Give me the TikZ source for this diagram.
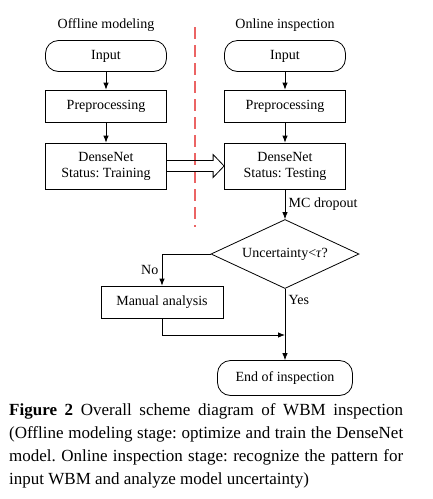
\documentclass[tikz,border=0pt]{standalone}
\usepackage{fontspec}
\setmainfont{Liberation Serif}
\usetikzlibrary{shapes,arrows.meta}

\begin{document}
\frenchspacing
\hyphenpenalty=10000
\exhyphenpenalty=10000
\begin{tikzpicture}[x=1pt,y=-1pt]
\tikzset{
block/.style={rectangle,draw=black,line width=0.8pt,text centered,minimum width=121pt,minimum height=32pt,font=\fontsize{14}{16}\selectfont},
termblock/.style={block,rounded corners=13pt,minimum height=31pt},
netblock/.style={block,minimum height=46pt,align=center},
decision/.style={diamond,draw=black,line width=0.8pt,aspect=2,inner sep=0pt,minimum width=148pt,minimum height=69pt,font=\fontsize{14}{16}\selectfont},
mytitle/.style={font=\fontsize{14}{16}\selectfont},
mylabel/.style={font=\fontsize{14}{16}\selectfont},
myarrow/.style={-{Latex[length=7pt,width=5.5pt]},line width=0.8pt},
hollowarrow/.style={line width=0.8pt,line join=miter},
redline/.style={draw={rgb,255:red,235;green,100;blue,100},line width=1.2pt,dash pattern=on 12pt off 6pt},
caption/.style={anchor=north west,text width=394pt,align=justify,inner sep=0pt,font=\fontsize{17}{23}\selectfont},
}
\useasboundingbox (0,0) rectangle (432,499);

% offline side
\node [termblock] (offinput) at (106,56) {Input};
\node [mytitle, above of=offinput, node distance=31pt] (offtitle) {Offline modeling};
\node [block, below of=offinput, node distance=50pt] (offprep) {Preprocessing};
\node [netblock, below of=offprep, node distance=60pt] (offnet) {DenseNet\\Status: Training};

% online side
\node [termblock, right of=offinput, node distance=179pt] (oninput) {Input};
\node [mytitle, above of=oninput, node distance=31pt] (ontitle) {Online inspection};
\node [block, below of=oninput, node distance=50pt] (onprep) {Preprocessing};
\node [netblock, below of=onprep, node distance=60pt] (onnet) {DenseNet\\Status: Testing};
\node [decision, below of=onnet, node distance=88pt] (check) {Uncertainty<\textit{τ}?};
\node [block, below of=check, node distance=48pt, xshift=-123pt, minimum width=122pt] (manual) {Manual analysis};
\node [termblock, below of=check, node distance=124pt, minimum width=135pt, minimum height=35pt] (finish) {End of inspection};
\coordinate [below of=check, node distance=81pt] (join);

% separator
\coordinate (septop) at (195,27);
\coordinate (sepbot) at (195,227);
\draw[redline] (septop) -- (sepbot);

\draw[myarrow] (offinput) -- (offprep);
\draw[myarrow] (offprep) -- (offnet);
\draw[myarrow] (oninput) -- (onprep);
\draw[myarrow] (onprep) -- (onnet);
% hollow arrow between the two nets
\draw[hollowarrow] ([yshift=5.5pt]offnet.east) -- ([xshift=-11pt,yshift=5.5pt]onnet.west)
  -- ([xshift=-11pt,yshift=11.5pt]onnet.west) -- (onnet.west)
  -- ([xshift=-11pt,yshift=-11.5pt]onnet.west) -- ([xshift=-11pt,yshift=-5.5pt]onnet.west)
  -- ([yshift=-5.5pt]offnet.east);
\draw[myarrow] (onnet) -- node[right, mylabel] {MC dropout} (check);
\draw[myarrow] (check.west) -| node[pos=0.75, left, mylabel] {No} (manual);
\draw[myarrow] (check) -- node[pos=0.16, right, mylabel] {Yes} (finish);
\draw[myarrow] (manual) |- (join);

\node [caption] (figcap) at (9,403) {\textbf{Figure 2} Overall scheme diagram of WBM inspection (Offline modeling stage: optimize and train the DenseNet model. Online inspection stage: recognize the pattern for input WBM and analyze model uncertainty)};
\end{tikzpicture}
\end{document}
